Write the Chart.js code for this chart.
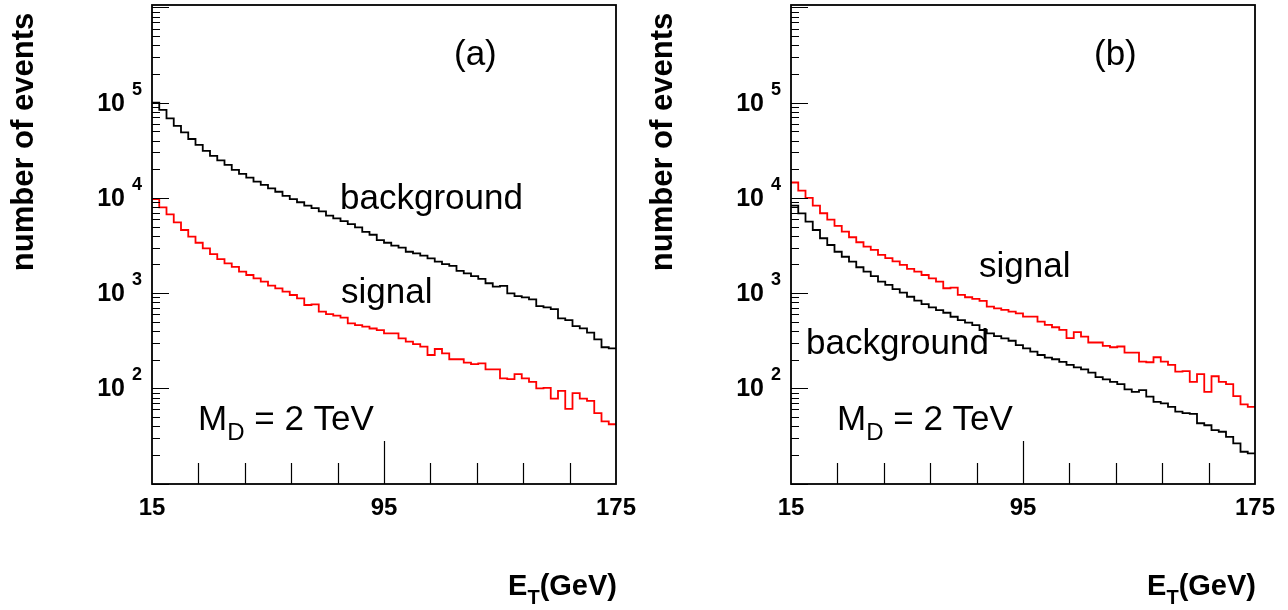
<!DOCTYPE html>
<html>
<head>
<meta charset="utf-8">
<script src="https://cdn.jsdelivr.net/npm/chart.js@4.4.1/dist/chart.umd.min.js"></script>
<style>
  html, body { margin: 0; padding: 0; background: #fff; }
  body { width: 1288px; height: 610px; position: relative; overflow: hidden; }
  .panel { position: absolute; top: 0; width: 644px; height: 610px; }
  #panelA { left: 0; }
  #panelB { left: 644px; }
</style>
</head>
<body>
<div class="panel" id="panelA"><canvas id="chartA" width="644" height="610"></canvas></div>
<div class="panel" id="panelB"><canvas id="chartB" width="644" height="610"></canvas></div>
<script>
// E_T spectra, 64 bins of 2.5 GeV between 15 and 175 GeV
const binStart = 15;
const binWidth = 2.5;

// panel (a)
const backgroundA = [100000, 84000, 68500, 57000, 48800, 41500, 36000, 31100, 27600, 24800,
  22200, 19700, 17900, 16300, 14800, 13700, 12600, 11600, 10500, 9700,
  9000, 8300, 7800, 7200, 6500, 6100, 5700, 5300, 4900, 4400,
  4100, 3600, 3380, 3150, 3000, 2720, 2620, 2470, 2320, 2140,
  2020, 1930, 1710, 1610, 1510, 1410, 1270, 1170, 1190, 995,
  930, 900, 860, 730, 710, 680, 543, 520, 450, 427,
  384, 327, 270, 263];
const signalA = [9700, 7960, 6720, 5540, 4600, 3920, 3380, 2950, 2570, 2280,
  2050, 1890, 1680, 1550, 1430, 1320, 1200, 1120, 1035, 955,
  880, 750, 762, 638, 603, 580, 552, 482, 462, 444,
  425, 409, 378, 378, 335, 309, 292, 274, 224, 259,
  233, 202, 202, 186, 180, 183, 158, 158, 127, 125,
  141, 127, 117, 100, 101, 78, 94, 61, 89, 78,
  74, 55, 45, 42];

// panel (b)
const signalB = [14500, 11900, 10000, 8300, 6900, 5900, 5070, 4420, 3860, 3420,
  3080, 2840, 2520, 2330, 2150, 1980, 1800, 1680, 1550, 1430,
  1320, 1125, 1140, 957, 905, 870, 828, 723, 693, 666,
  638, 614, 567, 567, 503, 464, 438, 411, 336, 389,
  350, 303, 303, 279, 270, 275, 237, 237, 191, 188,
  212, 191, 176, 150, 152, 117, 141, 92, 134, 117,
  111, 83, 68, 64];
const backgroundB = [8280, 6890, 5620, 4600, 3770, 3200, 2720, 2410, 2140, 1870,
  1680, 1510, 1320, 1220, 1100, 1010, 916, 832, 768, 709,
  664, 622, 565, 521, 489, 462, 410, 378, 354, 335,
  316, 285, 263, 243, 224, 210, 202, 190, 176, 166,
  158, 146, 131, 124, 117, 111, 97.5, 92, 96, 82,
  72, 69.5, 64, 57, 55, 54, 43, 41, 36.5, 35,
  31, 26.4, 21.6, 20.8];

// axis ticks
const xTickLabels = [15, 95, 175];
const xMinorTicks = [31, 47, 63, 79, 111, 127, 143, 159];
const xMajorTicks = [95];
const yExponents = [2, 3, 4, 5];

const FONT = '"Liberation Sans", Arial, Helvetica, sans-serif';

function histPoints(values) {
  const pts = values.map((v, i) => ({ x: binStart + i * binWidth, y: v }));
  pts.push({ x: binStart + values.length * binWidth, y: values[values.length - 1] });
  return pts;
}

function histLine(values, color) {
  return {
    data: histPoints(values),
    borderColor: color,
    borderWidth: 1.8,
    stepped: true,
    pointRadius: 0,
    fill: false,
    tension: 0
  };
}

// text with a subscript piece: main + sub + rest
function subText(ctx, x, y, main, sub, rest, size, subSize, drop, weight) {
  ctx.textAlign = 'left';
  ctx.textBaseline = 'alphabetic';
  ctx.font = `${weight} ${size}px ${FONT}`;
  ctx.fillText(main, x, y);
  x += ctx.measureText(main).width;
  ctx.font = `${weight} ${subSize}px ${FONT}`;
  ctx.fillText(sub, x, y + drop);
  x += ctx.measureText(sub).width;
  ctx.font = `${weight} ${size}px ${FONT}`;
  ctx.fillText(rest, x, y);
}

const rootDecor = {
  id: 'rootDecor',
  afterDatasetsDraw(chart, args, opts) {
    const { ctx, chartArea: a } = chart;
    const xs = chart.scales.x, ys = chart.scales.y;
    ctx.save();
    ctx.strokeStyle = '#000';
    ctx.fillStyle = '#000';

    // ticks drawn inside the frame, ROOT style
    ctx.lineWidth = 1.2;
    ctx.beginPath();
    for (let k = 1; k <= 6; k++) {
      for (let m = 1; m <= 9; m++) {
        const v = m * Math.pow(10, k);
        if (v < ys.min || v > ys.max) continue;
        const py = Math.round(ys.getPixelForValue(v)) + 0.5;
        ctx.moveTo(a.left, py);
        ctx.lineTo(a.left + (m === 1 ? 17 : 8), py);
      }
    }
    xMinorTicks.forEach(t => {
      const px = Math.round(xs.getPixelForValue(t)) + 0.5;
      ctx.moveTo(px, a.bottom);
      ctx.lineTo(px, a.bottom - 21);
    });
    xMajorTicks.forEach(t => {
      const px = Math.round(xs.getPixelForValue(t)) + 0.5;
      ctx.moveTo(px, a.bottom);
      ctx.lineTo(px, a.bottom - 43);
    });
    ctx.stroke();

    ctx.lineWidth = 1.8;
    ctx.strokeRect(a.left, a.top, a.right - a.left, a.bottom - a.top);

    // y tick labels 10^n
    yExponents.forEach(e => {
      const py = ys.getPixelForValue(Math.pow(10, e));
      ctx.font = `bold 25px ${FONT}`;
      ctx.textAlign = 'right';
      ctx.textBaseline = 'middle';
      ctx.fillText('10', a.left - 27, py + 1);
      ctx.font = `bold 18px ${FONT}`;
      ctx.textAlign = 'left';
      ctx.fillText(String(e), a.left - 20, py - 13);
    });

    // x tick labels
    ctx.font = `bold 24px ${FONT}`;
    ctx.textAlign = 'center';
    ctx.textBaseline = 'middle';
    xTickLabels.forEach(t => {
      ctx.fillText(String(t), xs.getPixelForValue(t), 508);
    });

    // y title
    ctx.save();
    ctx.translate(a.left - 119, 142);
    ctx.rotate(-Math.PI / 2);
    ctx.font = `bold 31px ${FONT}`;
    ctx.textAlign = 'center';
    ctx.textBaseline = 'alphabetic';
    ctx.fillText('number of events', 0, 0);
    ctx.restore();

    // x title E_T(GeV), right aligned to the frame
    ctx.font = `bold 29px ${FONT}`;
    const wE = ctx.measureText('E').width;
    const wG = ctx.measureText('(GeV)').width;
    ctx.font = `bold 20px ${FONT}`;
    const wT = ctx.measureText('T').width;
    subText(ctx, a.right - (wE + wT + wG) + 1, 595, 'E', 'T', '(GeV)', 29, 20, 9, 'bold');

    // annotations
    ctx.font = `35px ${FONT}`;
    ctx.textAlign = 'left';
    ctx.textBaseline = 'alphabetic';
    opts.labels.forEach(l => ctx.fillText(l.text, a.left + l.dx, l.y));
    subText(ctx, a.left + opts.md.dx, opts.md.y, 'M', 'D', ' = 2 TeV', 35, 24, 10, 'normal');

    ctx.restore();
  }
};

function makeChart(id, datasets, padding, labels) {
  return new Chart(document.getElementById(id), {
    type: 'line',
    data: { datasets },
    options: {
      responsive: false,
      animation: false,
      devicePixelRatio: 1,
      layout: { padding },
      scales: {
        x: { type: 'linear', min: 15, max: 175, display: false },
        y: { type: 'logarithmic', min: 9.9, max: 1.06e6, display: false }
      },
      plugins: {
        legend: { display: false },
        tooltip: { enabled: false },
        rootDecor: labels
      }
    },
    plugins: [rootDecor]
  });
}

makeChart('chartA',
  [histLine(backgroundA, '#000000'), histLine(signalA, '#ff0000')],
  { left: 152, right: 28, top: 5, bottom: 126 },
  {
    labels: [
      { text: '(a)', dx: 302, y: 65 },
      { text: 'background', dx: 188, y: 209 },
      { text: 'signal', dx: 189, y: 303 }
    ],
    md: { dx: 46, y: 430 }
  });

makeChart('chartB',
  [histLine(backgroundB, '#000000'), histLine(signalB, '#ff0000')],
  { left: 147, right: 33, top: 5, bottom: 126 },
  {
    labels: [
      { text: '(b)', dx: 303, y: 65 },
      { text: 'signal', dx: 188, y: 277 },
      { text: 'background', dx: 15, y: 354 }
    ],
    md: { dx: 46, y: 430 }
  });
</script>
</body>
</html>
